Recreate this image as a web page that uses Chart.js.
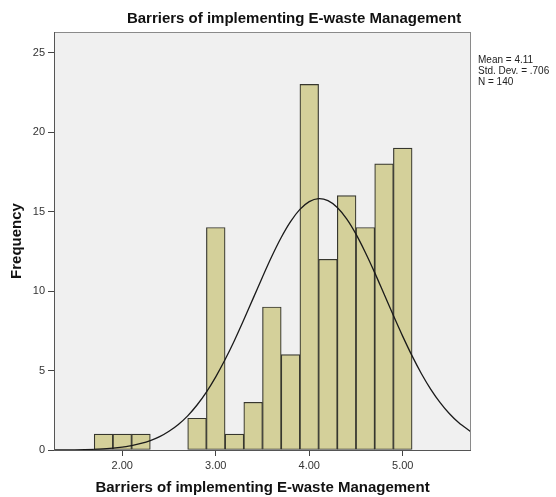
<!DOCTYPE html>
<html>
<head>
<meta charset="utf-8">
<script src="https://cdn.jsdelivr.net/npm/chart.js"></script>
<style>
  html, body { margin: 0; padding: 0; background: #fff; }
  #wrap { width: 556px; height: 497px; }
</style>
</head>
<body>
<div id="wrap"><canvas id="myChart" width="556" height="497"></canvas></div>
<script>
// histogram data
var chartTitle = "Barriers of implementing E-waste Management";
var xTitle = "Barriers of implementing E-waste Management";
var yTitle = "Frequency";
var statsLines = ["Mean = 4.11", "Std. Dev. = .706", "N = 140"];

var binCenters = [1.8, 2.0, 2.2, 2.4, 2.6, 2.8, 3.0, 3.2, 3.4, 3.6, 3.8, 4.0, 4.2, 4.4, 4.6, 4.8, 5.0];
var frequencies = [1, 1, 1, null, null, 2, 14, 1, 3, 9, 6, 23, 12, 16, 14, 18, 19];

// normal curve heights estimated along the x axis
var curveX = [1.27, 1.4, 1.6, 1.8, 2.0, 2.1, 2.2, 2.3, 2.4, 2.5, 2.6, 2.7, 2.8, 2.9, 3.0, 3.1, 3.2, 3.3, 3.4, 3.5, 3.6, 3.7, 3.8, 3.9, 4.0, 4.1, 4.2, 4.3, 4.4, 4.5, 4.6, 4.7, 4.8, 4.9, 5.0, 5.1, 5.2, 5.3, 5.4, 5.5, 5.6, 5.73];
var curveY = [0.004, 0.01, 0.028, 0.075, 0.18, 0.28, 0.41, 0.59, 0.84, 1.18, 1.61, 2.15, 2.83, 3.64, 4.6, 5.69, 6.89, 8.19, 9.54, 10.89, 12.19, 13.37, 14.37, 15.14, 15.63, 15.82, 15.69, 15.26, 14.54, 13.58, 12.43, 11.16, 9.81, 8.46, 7.15, 5.92, 4.8, 3.82, 2.98, 2.28, 1.71, 1.14];

var xTicks = [2, 3, 4, 5];
var yTicks = [0, 5, 10, 15, 20, 25];

var barData = binCenters.map(function (c, i) { return { x: c, y: frequencies[i] }; });
var curveData = curveX.map(function (c, i) { return { x: c, y: curveY[i] }; });

var framePlugin = {
  id: "frame",
  beforeDraw: function (chart) {
    var ctx = chart.ctx, a = chart.chartArea;
    ctx.save();
    ctx.fillStyle = "#f0f0f0";
    ctx.fillRect(a.left, a.top, a.right - a.left, a.bottom - a.top);
    ctx.restore();
  },
  afterDatasetsDraw: function (chart) {
    var ctx = chart.ctx, a = chart.chartArea;
    ctx.save();
    ctx.lineWidth = 1;
    ctx.strokeStyle = "#8a8a8a";
    ctx.strokeRect(a.left + 0.5, a.top + 0.5, a.right - a.left - 1, a.bottom - a.top);
    ctx.strokeStyle = "#555";
    ctx.beginPath();
    ctx.moveTo(a.left + 0.5, a.top);
    ctx.lineTo(a.left + 0.5, a.bottom + 0.5);
    ctx.lineTo(a.right, a.bottom + 0.5);
    ctx.stroke();
    ctx.restore();
  },
  afterDraw: function (chart) {
    var ctx = chart.ctx, a = chart.chartArea;
    ctx.save();
    ctx.fillStyle = "#111";
    ctx.textAlign = "center";
    ctx.textBaseline = "middle";
    ctx.font = "bold 15px 'Liberation Sans', Arial, sans-serif";
    ctx.fillText(chartTitle, 294, 19);
    ctx.textAlign = "left";
    ctx.font = "10px 'Liberation Sans', Arial, sans-serif";
    ctx.fillStyle = "#222";
    statsLines.forEach(function (s, i) {
      ctx.fillText(s, a.right + 7, 60 + i * 11);
    });
    ctx.restore();
  }
};

var ctx = document.getElementById("myChart").getContext("2d");
var myChart = new Chart(ctx, {
  type: "bar",
  data: {
    datasets: [
      {
        type: "line",
        data: curveData,
        borderColor: "#1a1a1a",
        borderWidth: 1.3,
        pointRadius: 0,
        tension: 0.3,
        fill: false,
        order: 0
      },
      {
        type: "bar",
        data: barData,
        backgroundColor: "#d4d09a",
        borderColor: "#36362e",
        borderWidth: 1.2,
        borderSkipped: false,
        barPercentage: 1,
        categoryPercentage: 1,
        order: 1
      }
    ]
  },
  options: {
    responsive: false,
    animation: false,
    devicePixelRatio: 1,
    layout: { padding: { top: 32, right: 85, bottom: 0, left: 0 } },
    plugins: {
      legend: { display: false },
      tooltip: { enabled: false },
      title: { display: false }
    },
    scales: {
      x: {
        type: "linear",
        min: 1.27,
        max: 5.73,
        offset: false,
        afterBuildTicks: function (scale) {
          scale.ticks = xTicks.map(function (v) { return { value: v }; });
        },
        afterFit: function (scale) { scale.height = 47; },
        ticks: {
          autoSkip: false,
          maxRotation: 0,
          padding: 3,
          color: "#333",
          font: { family: "'Liberation Sans', Arial, sans-serif", size: 11 },
          callback: function (v) { return Number(v).toFixed(2); }
        },
        grid: { display: true, offset: false, drawOnChartArea: false, drawTicks: true, tickLength: 6, color: "#444" },
        border: { display: false },
        title: {
          display: true,
          text: xTitle,
          color: "#111",
          padding: { top: 0, bottom: 0 },
          font: { family: "'Liberation Sans', Arial, sans-serif", size: 15, weight: "bold" }
        }
      },
      y: {
        type: "linear",
        min: 0,
        max: 26.3,
        afterBuildTicks: function (scale) {
          scale.ticks = yTicks.map(function (v) { return { value: v }; });
        },
        afterFit: function (scale) { scale.width = 54; },
        ticks: {
          padding: 3,
          color: "#333",
          font: { family: "'Liberation Sans', Arial, sans-serif", size: 11 }
        },
        grid: { display: true, drawOnChartArea: false, drawTicks: true, tickLength: 6, color: "#444" },
        border: { display: false },
        title: {
          display: true,
          text: yTitle,
          color: "#111",
          padding: { top: 8, bottom: 0 },
          font: { family: "'Liberation Sans', Arial, sans-serif", size: 15, weight: "bold" }
        }
      }
    }
  },
  plugins: [framePlugin]
});
</script>
</body>
</html>
